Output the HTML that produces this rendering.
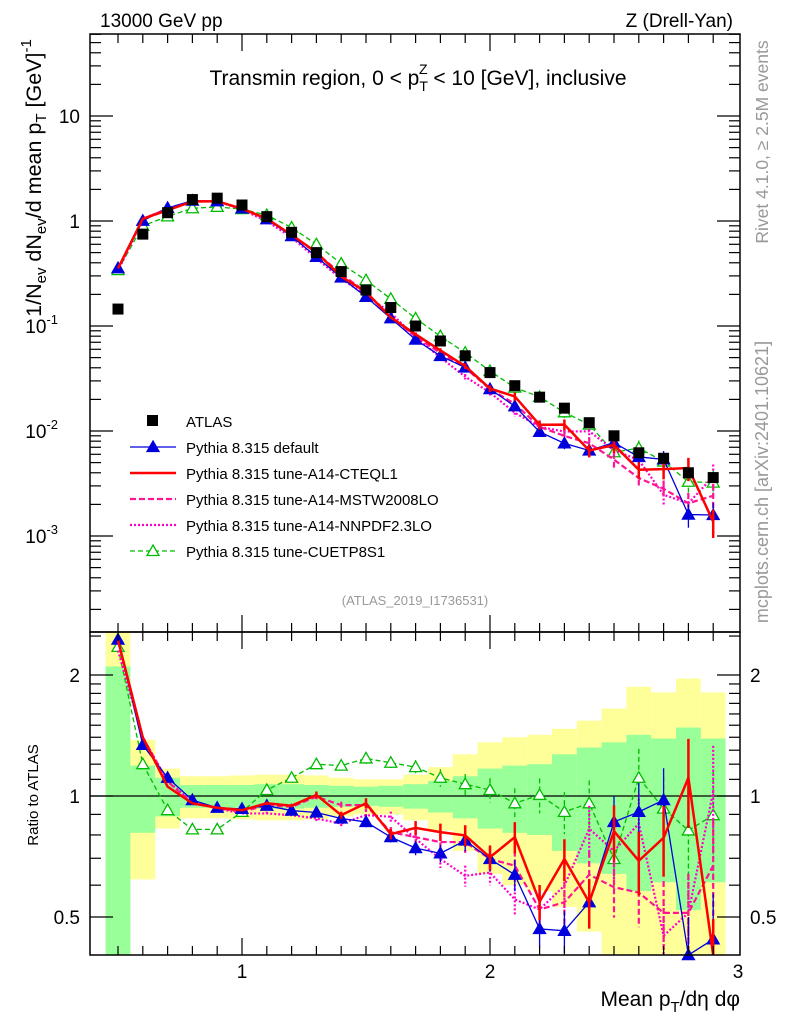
<!DOCTYPE html>
<html><head><meta charset="utf-8"><style>
html,body{margin:0;padding:0;background:#fff;}
svg{display:block;font-family:"Liberation Sans",sans-serif;}
</style></head><body>
<svg id="c" width="786" height="1024" viewBox="0 0 786 1024">
<g id="bands"></g>
<g id="marks"></g>
<g id="axes"></g>
<text x="100" y="27" font-size="19">13000 GeV pp</text>
<text x="733" y="27" font-size="19" text-anchor="end">Z (Drell-Yan)</text>
<text x="418" y="85" font-size="21" text-anchor="middle">Transmin region, 0 &lt; p<tspan font-size="14" dy="6">T</tspan><tspan font-size="14" dx="-9" dy="-17">Z</tspan><tspan dy="11"> &lt; 10 [GeV], inclusive</tspan></text>
<text x="415" y="605" font-size="13" fill="#999" text-anchor="middle">(ATLAS_2019_I1736531)</text>
<text transform="translate(768,142) rotate(-90)" font-size="17.5" fill="#999" text-anchor="middle">Rivet 4.1.0, ≥ 2.5M events</text>
<text transform="translate(768,482) rotate(-90)" font-size="18" fill="#999" text-anchor="middle">mcplots.cern.ch [arXiv:2401.10621]</text>
<text transform="translate(41,178) rotate(-90)" font-size="21.5" text-anchor="middle">1/N<tspan font-size="15" dy="5">ev</tspan><tspan dy="-5"> dN</tspan><tspan font-size="15" dy="5">ev</tspan><tspan dy="-5">/d mean p</tspan><tspan font-size="15" dy="5">T</tspan><tspan dy="-5"> [GeV]</tspan><tspan font-size="15" dy="-10">-1</tspan></text>
<text transform="translate(38,795) rotate(-90)" font-size="15" text-anchor="middle">Ratio to ATLAS</text>
<text x="740" y="1006" font-size="21" text-anchor="end">Mean p<tspan font-size="15" dy="6">T</tspan><tspan dy="-6">/dη dφ</tspan></text>
<g id="legend"></g>
</svg>
<script>
const xs=[0.5,0.6,0.7,0.8,0.9,1.0,1.1,1.2,1.3,1.4,1.5,1.6,1.7,1.8,1.9,2.0,2.1,2.2,2.3,2.4,2.5,2.6,2.7,2.8,2.9];
const atlas=[0.145,0.75,1.2,1.6,1.65,1.42,1.1,0.78,0.5,0.33,0.22,0.15,0.1,0.072,0.052,0.036,0.027,0.021,0.0165,0.012,0.009,0.0062,0.0055,0.004,0.0036];
const rDefault=[2.45,1.34,1.11,0.977,0.935,0.929,0.946,0.92,0.91,0.879,0.862,0.79,0.742,0.72,0.775,0.697,0.637,0.467,0.462,0.544,0.862,0.913,0.977,0.40,0.44];
const rCTEQ=[2.44,1.40,1.055,0.959,0.935,0.922,0.959,0.946,1.006,0.896,0.959,0.804,0.833,0.813,0.798,0.704,0.79,0.546,0.697,0.544,0.817,0.69,0.787,1.11,0.38];
const rMSTW=[2.44,1.40,1.087,0.959,0.935,0.913,0.949,0.94,0.996,0.949,0.949,0.813,0.79,0.768,0.768,0.697,0.671,0.522,0.544,0.637,0.593,0.575,0.512,0.512,0.671];
const rNNPDF=[2.30,1.40,1.087,0.968,0.931,0.905,0.905,0.896,0.879,0.854,0.896,0.888,0.783,0.697,0.633,0.645,0.553,0.522,0.598,0.829,0.73,0.854,0.449,0.512,1.025];
const rCUETP=[2.35,1.20,0.922,0.826,0.826,0.913,1.035,1.11,1.20,1.19,1.24,1.21,1.18,1.11,1.07,1.035,0.959,1.006,0.913,0.959,0.697,1.11,0.931,0.821,0.896];
const mcErr=[0,0,0,0,0,0,0.01,0.01,0.02,0.02,0.03,0.03,0.04,0.05,0.06,0.07,0.09,0.1,0.12,0.14,0.16,0.18,0.2,0.25,0.3];
const errGreen=[1.1,0.19,0.11,0.065,0.065,0.065,0.07,0.07,0.065,0.06,0.055,0.06,0.07,0.09,0.12,0.17,0.19,0.20,0.27,0.32,0.36,0.42,0.39,0.48,0.39];
const errYellow=[1.6,0.38,0.17,0.12,0.12,0.125,0.13,0.13,0.125,0.11,0.10,0.10,0.13,0.18,0.27,0.36,0.40,0.42,0.47,0.54,0.65,0.87,0.81,0.96,0.81];
const yTickLabels=["10","1","10","10","10"];
const ratioTickLabels=["0.5","1","2"];
const xTickLabels=["1","2","3"];

const NS="http://www.w3.org/2000/svg";
const L=90,R=740,T=34,MB=632,RB=955;
const X=v=>242+(v-1)*248;
const Y=v=>221-Math.log10(v)*105;
const YR=v=>796-Math.log2(v)*121;
function mk(tag,attrs,parent){const e=document.createElementNS(NS,tag);for(const k in attrs)e.setAttribute(k,attrs[k]);parent.appendChild(e);return e;}
const bands=document.getElementById('bands'),marks=document.getElementById('marks'),axes=document.getElementById('axes'),leg=document.getElementById('legend');
const clampR=v=>Math.min(Math.max(v,0.402),2.56);
[[errYellow,'#ffff99','yellow-band'],[errGreen,'#99ff99','green-band']].forEach(([err,col,nm])=>{
 xs.forEach((x,i)=>{
  const x0=Math.max(X(x-0.05),L),x1=Math.min(X(x+0.05),R);
  const hi=clampR(1+err[i]),lo=clampR(Math.max(1-err[i],0.3));
  const r=mk('rect',{x:x0,y:YR(hi),width:x1-x0,height:YR(lo)-YR(hi),fill:col},bands);
  
  
 });
});
const ul=mk('line',{x1:L,x2:R,y1:YR(1),y2:YR(1),stroke:'#000','stroke-width':1.3},marks);


const series=[
 {r:rCUETP,c:'#00bb00',w:1.3,d:'5,3',m:'otri',n:'cuetp8s1'},
 {r:rNNPDF,c:'#ff00cc',w:2.2,d:'2,2',m:null,n:'nnpdf'},
 {r:rMSTW,c:'#ff1493',w:2.2,d:'6,3',m:null,n:'mstw'},
 {r:rDefault,c:'#0000dd',w:1.3,d:null,m:'tri',n:'default'},
 {r:rCTEQ,c:'#ff0000',w:2.5,d:null,m:null,n:'cteql1'}
];
function tri(g,x,y,c,filled,name){
 const p=mk('path',{d:`M${x},${y-6}L${x+6},${y+4.5}L${x-6},${y+4.5}Z`,fill:filled?c:'#fff',stroke:c,'stroke-width':1.3},g);
 
 
}
series.forEach(s=>{
 const g=mk('g',{},marks);
 
 
 const attr={fill:'none',stroke:s.c,'stroke-width':s.w};
 if(s.d)attr['stroke-dasharray']=s.d;
 const pm=mk('polyline',Object.assign({points:xs.map((x,i)=>X(x)+','+Y(atlas[i]*s.r[i])).join(' ')},attr),g);
 
 
 const pr=mk('polyline',Object.assign({points:xs.map((x,i)=>X(x)+','+YR(clampR(s.r[i]))).join(' ')},attr),g);
 
 
 xs.forEach((x,i)=>{
  const e=mcErr[i];
  if(e>0.005){
   const v=atlas[i]*s.r[i];
   const eb=mk('line',{x1:X(x),x2:X(x),y1:Y(v*(1+e)),y2:Y(v*Math.max(1-e,0.05)),stroke:s.c,'stroke-width':s.w,'stroke-dasharray':s.d||'none'},g);
   
   
   const er=mk('line',{x1:X(x),x2:X(x),y1:YR(clampR(s.r[i]*(1+e))),y2:YR(clampR(s.r[i]*(1-e))),stroke:s.c,'stroke-width':s.w,'stroke-dasharray':s.d||'none'},g);
   
   
  }
  if(s.m){
   tri(g,X(x),Y(atlas[i]*s.r[i]),s.c,s.m==='tri','point');
   tri(g,X(x),YR(clampR(s.r[i])),s.c,s.m==='tri','ratio-point');
  }
 });
});
xs.forEach((x,i)=>{
 const s=mk('rect',{x:X(x)-5.5,y:Y(atlas[i])-5.5,width:11,height:11,fill:'#000'},marks);
 
 
});
[[T,MB],[MB,RB]].forEach(([a,b])=>{
 const f=mk('rect',{x:L,y:a,width:R-L,height:b-a,fill:'none',stroke:'#000','stroke-width':1.5},axes);
 
 
});
function tk(x1,y1,x2,y2){mk('line',{x1,y1,x2,y2,stroke:'#000','stroke-width':1.2},axes);}
for(let k=5;k<=29;k++){
 const v=k/10,x=X(v),maj=(k%10===0),len=maj?17:9;
 tk(x,T,x,T+len);tk(x,MB,x,MB-len);tk(x,MB,x,MB+len);tk(x,RB,x,RB-len);
}
xTickLabels.forEach((t,i)=>{
 const el=mk('text',{x:X(i+1),y:978,'font-size':19,'text-anchor':'middle'},axes);el.textContent=t;
 
 
});
for(let d=-4;d<=1;d++){
 for(let m=1;m<=9;m++){
  const v=m*Math.pow(10,d),y=Y(v);
  if(y<T||y>MB)continue;
  const len=m===1?23:11;
  tk(L,y,L+len,y);tk(R,y,R-len,y);
 }
}
const decs=[1,0,-1,-2,-3];
decs.forEach((d,i)=>{
 const el=mk('text',{x:d<0?66:80,y:Y(Math.pow(10,d))+7,'font-size':19,'text-anchor':'end'},axes);
 el.textContent=yTickLabels[i];
 if(d<0){const s=mk('tspan',{'font-size':13,dy:-9},el);s.textContent=String(d);el.setAttribute('x',58);}
 
 
});
[0.4,0.5,0.6,0.7,0.8,0.9,1,1.1,1.2,1.3,1.4,1.5,1.6,1.7,1.8,1.9,2,2.5].forEach(v=>{
 const y=YR(v);if(y<MB||y>RB)return;
 const len=(v===0.5||v===1||v===2)?23:11;
 tk(L,y,L+len,y);tk(R,y,R-len,y);
});
[0.5,1,2].forEach((v,i)=>{
 const a=mk('text',{x:80,y:YR(v)+7,'font-size':19,'text-anchor':'end'},axes);a.textContent=ratioTickLabels[i];
 
 
 const b=mk('text',{x:750,y:YR(v)+7,'font-size':19},axes);b.textContent=ratioTickLabels[i];
 
 
});
const legItems=[
 ['ATLAS','#000',0,null,'sq'],
 ['Pythia 8.315 default','#0000dd',1.3,null,'tri'],
 ['Pythia 8.315 tune-A14-CTEQL1','#ff0000',2.5,null,null],
 ['Pythia 8.315 tune-A14-MSTW2008LO','#ff1493',2.2,'6,3',null],
 ['Pythia 8.315 tune-A14-NNPDF2.3LO','#ff00cc',2.2,'2,2',null],
 ['Pythia 8.315 tune-CUETP8S1','#00bb00',1.3,'5,3','otri']
];
legItems.forEach((it,i)=>{
 const y=421+i*26;
 const g=mk('g',{},leg);
 
 
 if(it[4]==='sq'){mk('rect',{x:147,y:y-6,width:11,height:11,fill:'#000'},g);}
 else{
  const a={x1:130,x2:176,y1:y,y2:y,stroke:it[1],'stroke-width':it[2]};if(it[3])a['stroke-dasharray']=it[3];
  mk('line',a,g);
  if(it[4])tri(g,153,y,it[1],it[4]==='tri','legend-marker');
 }
 const t=mk('text',{x:186,y:y+6,'font-size':15},g);t.textContent=it[0];
});
</script>
</body></html>
